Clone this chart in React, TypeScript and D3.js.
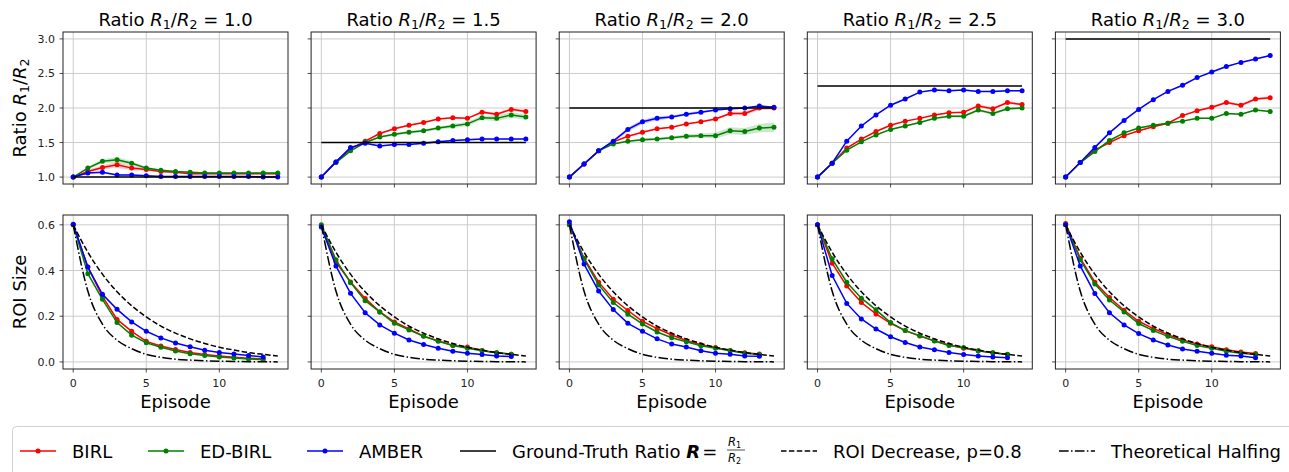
import React from 'react';
import * as d3 from 'd3';

// ---- data ----
const targetLabels = ['1.0', '1.5', '2.0', '2.5', '3.0'];
const groundTruth = [1.0, 1.5, 2.0, 2.32, 3.0];

const ratioEpisodes = [0, 1, 2, 3, 4, 5, 6, 7, 8, 9, 10, 11, 12, 13, 14];
const roiEpisodes = [0, 1, 2, 3, 4, 5, 6, 7, 8, 9, 10, 11, 12, 13];
const theoryEpisodes = [0, 1, 2, 3, 4, 5, 6, 7, 8, 9, 10, 11, 12, 13, 14];

const ratioTicks = [1.0, 1.5, 2.0, 2.5, 3.0];
const roiTicks = [0.0, 0.2, 0.4, 0.6];
const episodeTicks = [0, 5, 10];

const ratioBIRL = [
  [1.0, 1.08, 1.14, 1.18, 1.13, 1.11, 1.08, 1.07, 1.05, 1.05, 1.05, 1.05, 1.05, 1.05, 1.05],
  [1.0, 1.22, 1.41, 1.52, 1.63, 1.70, 1.75, 1.79, 1.84, 1.86, 1.85, 1.94, 1.91, 1.98, 1.95],
  [1.0, 1.19, 1.38, 1.51, 1.59, 1.65, 1.70, 1.72, 1.77, 1.80, 1.84, 1.92, 1.92, 2.00, 2.00],
  [1.0, 1.20, 1.42, 1.55, 1.66, 1.75, 1.81, 1.85, 1.90, 1.93, 1.94, 2.03, 1.99, 2.08, 2.05],
  [1.0, 1.21, 1.39, 1.50, 1.60, 1.67, 1.73, 1.78, 1.89, 1.96, 2.01, 2.08, 2.04, 2.13, 2.15],
];
const ratioEDBIRL = [
  [1.0, 1.13, 1.23, 1.25, 1.20, 1.13, 1.10, 1.08, 1.07, 1.06, 1.06, 1.06, 1.06, 1.06, 1.06],
  [1.0, 1.21, 1.38, 1.50, 1.58, 1.62, 1.65, 1.67, 1.71, 1.74, 1.77, 1.86, 1.85, 1.90, 1.87],
  [1.0, 1.19, 1.38, 1.48, 1.52, 1.54, 1.55, 1.57, 1.59, 1.60, 1.60, 1.67, 1.66, 1.71, 1.72],
  [1.0, 1.20, 1.39, 1.51, 1.61, 1.69, 1.74, 1.79, 1.85, 1.88, 1.88, 1.97, 1.92, 1.99, 2.00],
  [1.0, 1.21, 1.37, 1.53, 1.64, 1.71, 1.75, 1.78, 1.81, 1.85, 1.85, 1.92, 1.91, 1.97, 1.95],
];
const ratioAMBER = [
  [1.0, 1.06, 1.07, 1.03, 1.03, 1.02, 1.01, 1.01, 1.01, 1.01, 1.01, 1.01, 1.01, 1.0, 1.0],
  [1.0, 1.22, 1.43, 1.49, 1.45, 1.47, 1.47, 1.49, 1.51, 1.53, 1.54, 1.55, 1.55, 1.55, 1.55],
  [1.0, 1.19, 1.38, 1.52, 1.69, 1.80, 1.85, 1.87, 1.91, 1.94, 1.97, 1.99, 2.00, 2.03, 2.01],
  [1.0, 1.20, 1.52, 1.74, 1.90, 2.04, 2.13, 2.23, 2.26, 2.25, 2.26, 2.24, 2.24, 2.25, 2.25],
  [1.0, 1.21, 1.43, 1.64, 1.82, 1.98, 2.12, 2.24, 2.33, 2.44, 2.52, 2.60, 2.66, 2.71, 2.76],
];

// half-width of the shaded bands
const spreadBIRL = [
  [0, 0.02, 0.03, 0.04, 0.03, 0.02, 0.01, 0.01, 0.01, 0.01, 0.01, 0.01, 0.01, 0.01, 0.01],
  [0, 0.01, 0.01, 0.01, 0.01, 0.01, 0.01, 0.01, 0.01, 0.01, 0.01, 0.02, 0.02, 0.02, 0.02],
  [0, 0.01, 0.01, 0.01, 0.01, 0.01, 0.01, 0.01, 0.01, 0.01, 0.01, 0.02, 0.03, 0.03, 0.03],
  [0, 0.01, 0.01, 0.01, 0.01, 0.01, 0.01, 0.01, 0.01, 0.01, 0.01, 0.02, 0.02, 0.02, 0.02],
  [0, 0.01, 0.01, 0.01, 0.01, 0.01, 0.01, 0.01, 0.01, 0.01, 0.02, 0.02, 0.02, 0.02, 0.02],
];
const spreadEDBIRL = [
  [0, 0.02, 0.03, 0.04, 0.03, 0.02, 0.01, 0.01, 0.01, 0.01, 0.01, 0.01, 0.01, 0.01, 0.01],
  [0, 0.01, 0.01, 0.01, 0.01, 0.02, 0.02, 0.02, 0.02, 0.03, 0.03, 0.03, 0.04, 0.04, 0.04],
  [0, 0.01, 0.01, 0.01, 0.01, 0.02, 0.02, 0.02, 0.03, 0.03, 0.04, 0.05, 0.05, 0.06, 0.07],
  [0, 0.01, 0.01, 0.01, 0.01, 0.01, 0.01, 0.01, 0.02, 0.02, 0.02, 0.02, 0.02, 0.02, 0.02],
  [0, 0.01, 0.01, 0.01, 0.01, 0.01, 0.01, 0.01, 0.01, 0.01, 0.01, 0.01, 0.01, 0.01, 0.01],
];
const spreadAMBER = [
  [0, 0.01, 0.01, 0.01, 0.01, 0.01, 0.01, 0.01, 0.01, 0.01, 0.01, 0.01, 0.01, 0.01, 0.01],
  [0, 0.01, 0.01, 0.01, 0.01, 0.01, 0.01, 0.01, 0.01, 0.01, 0.01, 0.01, 0.01, 0.01, 0.01],
  [0, 0.01, 0.01, 0.02, 0.03, 0.03, 0.03, 0.02, 0.02, 0.02, 0.01, 0.01, 0.01, 0.01, 0.01],
  [0, 0.01, 0.01, 0.01, 0.01, 0.01, 0.01, 0.01, 0.01, 0.01, 0.01, 0.01, 0.01, 0.01, 0.01],
  [0, 0.01, 0.01, 0.01, 0.01, 0.01, 0.01, 0.01, 0.01, 0.01, 0.01, 0.01, 0.01, 0.01, 0.01],
];

const roiBIRL = [
  [0.600, 0.415, 0.287, 0.186, 0.134, 0.090, 0.070, 0.054, 0.041, 0.032, 0.026, 0.020, 0.016, 0.013],
  [0.595, 0.437, 0.350, 0.278, 0.219, 0.175, 0.144, 0.113, 0.093, 0.072, 0.065, 0.050, 0.040, 0.034],
  [0.600, 0.454, 0.349, 0.274, 0.225, 0.178, 0.146, 0.118, 0.094, 0.075, 0.063, 0.050, 0.040, 0.035],
  [0.600, 0.432, 0.332, 0.260, 0.210, 0.169, 0.137, 0.113, 0.093, 0.074, 0.060, 0.049, 0.040, 0.032],
  [0.606, 0.454, 0.349, 0.282, 0.226, 0.178, 0.146, 0.119, 0.096, 0.078, 0.066, 0.053, 0.043, 0.037],
];
const roiEDBIRL = [
  [0.600, 0.386, 0.274, 0.172, 0.117, 0.084, 0.064, 0.048, 0.036, 0.028, 0.022, 0.017, 0.013, 0.010],
  [0.600, 0.447, 0.347, 0.268, 0.219, 0.169, 0.140, 0.112, 0.090, 0.072, 0.060, 0.049, 0.040, 0.034],
  [0.600, 0.450, 0.337, 0.260, 0.209, 0.166, 0.131, 0.106, 0.088, 0.071, 0.060, 0.049, 0.038, 0.032],
  [0.600, 0.451, 0.349, 0.279, 0.228, 0.172, 0.137, 0.115, 0.091, 0.072, 0.063, 0.049, 0.040, 0.034],
  [0.600, 0.447, 0.341, 0.271, 0.219, 0.168, 0.137, 0.112, 0.090, 0.072, 0.060, 0.047, 0.038, 0.032],
];
const roiAMBER = [
  [0.603, 0.415, 0.296, 0.230, 0.175, 0.134, 0.105, 0.083, 0.066, 0.051, 0.041, 0.035, 0.028, 0.022],
  [0.590, 0.420, 0.300, 0.215, 0.162, 0.126, 0.096, 0.076, 0.060, 0.047, 0.038, 0.032, 0.026, 0.024],
  [0.613, 0.428, 0.310, 0.229, 0.169, 0.134, 0.101, 0.078, 0.065, 0.049, 0.038, 0.034, 0.026, 0.025],
  [0.600, 0.378, 0.256, 0.188, 0.144, 0.110, 0.085, 0.065, 0.053, 0.041, 0.032, 0.026, 0.022, 0.018],
  [0.600, 0.420, 0.299, 0.215, 0.162, 0.124, 0.096, 0.074, 0.057, 0.047, 0.038, 0.029, 0.026, 0.018],
];

const roiDecrease = [0.6, 0.48, 0.384, 0.307, 0.246, 0.197, 0.157, 0.126, 0.101, 0.081, 0.064, 0.052, 0.041, 0.033, 0.026];
const halfing = [0.6, 0.31, 0.165, 0.095, 0.058, 0.033, 0.02, 0.012, 0.008, 0.005, 0.003, 0.002, 0.001, 0.001, 0.0];

const methods = [
  { name: 'BIRL', color: '#ff0000', ratio: ratioBIRL, spread: spreadBIRL, roi: roiBIRL },
  { name: 'ED-BIRL', color: '#008000', ratio: ratioEDBIRL, spread: spreadEDBIRL, roi: roiEDBIRL },
  { name: 'AMBER', color: '#0000ff', ratio: ratioAMBER, spread: spreadAMBER, roi: roiAMBER },
];

// ---- layout ----
const W = 1289;
const H = 472;
const FONT = 'DejaVu Sans, sans-serif';
const PANEL_LEFT = 63;
const PANEL_STEP = 248.1;
const PANEL_W = 225;
const TOP_Y0 = 32;
const TOP_Y1 = 184;
const BOT_Y0 = 215;
const BOT_Y1 = 369;
const GRID = '#cccccc';
const TICK_TXT = '#222';
const DASHED = '5.5,2.4';
const DASHDOT = '9.6,2.4,1.5,2.4';

function Frame({ left, top, bottom }: { left: number; top: number; bottom: number }) {
  return (
    <rect x={left} y={top} width={PANEL_W} height={bottom - top} fill="none" stroke="#222" strokeWidth={1} />
  );
}

function Panel({ i }: { i: number }) {
  const left = PANEL_LEFT + i * PANEL_STEP;
  const x = d3.scaleLinear().domain([-0.7, 14.7]).range([left, left + PANEL_W]);
  const yR = d3.scaleLinear().domain([0.9, 3.1]).range([TOP_Y1, TOP_Y0]);
  const yS = d3.scaleLinear().domain([-0.031, 0.643]).range([BOT_Y1, BOT_Y0]);
  const cx = left + PANEL_W / 2;

  const ratioLine = d3.line<number>().x((_, k) => x(ratioEpisodes[k])).y((d) => yR(d));
  const roiLine = d3.line<number>().x((_, k) => x(roiEpisodes[k])).y((d) => yS(d));
  const theoryLine = d3
    .line<number>()
    .x((_, k) => x(theoryEpisodes[k]))
    .y((d) => yS(d))
    .curve(d3.curveMonotoneX);

  return (
    <g>
      {/* title */}
      <text x={cx} y={26} textAnchor="middle" fontSize={18} fontFamily={FONT} fill="#000">
        Ratio <tspan fontStyle="italic">R</tspan>
        <tspan fontSize={12.6} dy={3}>1</tspan>
        <tspan dy={-3}>/</tspan>
        <tspan fontStyle="italic">R</tspan>
        <tspan fontSize={12.6} dy={3}>2</tspan>
        <tspan dy={-3}> = {targetLabels[i]}</tspan>
      </text>

      {/* ---- top: ratio ---- */}
      {episodeTicks.map((t) => (
        <g key={'tx' + t}>
          <line x1={x(t)} x2={x(t)} y1={TOP_Y0} y2={TOP_Y1} stroke={GRID} strokeWidth={1} />
          <line x1={x(t)} x2={x(t)} y1={TOP_Y1} y2={TOP_Y1 + 3.5} stroke="#222" strokeWidth={0.8} />
        </g>
      ))}
      {ratioTicks.map((t) => (
        <g key={'ty' + t}>
          <line x1={left} x2={left + PANEL_W} y1={yR(t)} y2={yR(t)} stroke={GRID} strokeWidth={1} />
          <line x1={left - 3.5} x2={left} y1={yR(t)} y2={yR(t)} stroke="#222" strokeWidth={0.8} />
          {i === 0 && (
            <text x={left - 8} y={yR(t) + 4} textAnchor="end" fontSize={11} fontFamily={FONT} fill={TICK_TXT}>
              {t.toFixed(1)}
            </text>
          )}
        </g>
      ))}
      {methods.map((m) => {
        const vals = m.ratio[i];
        const sp = m.spread[i];
        const band = d3
          .area<number>()
          .x((_, k) => x(ratioEpisodes[k]))
          .y0((d, k) => yR(d - sp[k]))
          .y1((d, k) => yR(d + sp[k]));
        return (
          <g key={'r' + m.name}>
            <path d={band(vals) || ''} fill={m.color} fillOpacity={0.2} stroke="none" />
            <path d={ratioLine(vals) || ''} fill="none" stroke={m.color} strokeWidth={1.5} />
            {vals.map((v, k) => (
              <circle key={k} cx={x(ratioEpisodes[k])} cy={yR(v)} r={2.5} fill={m.color} />
            ))}
          </g>
        );
      })}
      <line
        x1={x(ratioEpisodes[0])}
        x2={x(ratioEpisodes[ratioEpisodes.length - 1])}
        y1={yR(groundTruth[i])}
        y2={yR(groundTruth[i])}
        stroke="#000"
        strokeWidth={1.5}
      />
      <Frame left={left} top={TOP_Y0} bottom={TOP_Y1} />

      {/* ---- bottom: ROI size ---- */}
      {episodeTicks.map((t) => (
        <g key={'bx' + t}>
          <line x1={x(t)} x2={x(t)} y1={BOT_Y0} y2={BOT_Y1} stroke={GRID} strokeWidth={1} />
          <line x1={x(t)} x2={x(t)} y1={BOT_Y1} y2={BOT_Y1 + 3.5} stroke="#222" strokeWidth={0.8} />
          <text x={x(t)} y={BOT_Y1 + 18} textAnchor="middle" fontSize={11} fontFamily={FONT} fill={TICK_TXT}>
            {t}
          </text>
        </g>
      ))}
      {roiTicks.map((t) => (
        <g key={'by' + t}>
          <line x1={left} x2={left + PANEL_W} y1={yS(t)} y2={yS(t)} stroke={GRID} strokeWidth={1} />
          <line x1={left - 3.5} x2={left} y1={yS(t)} y2={yS(t)} stroke="#222" strokeWidth={0.8} />
          {i === 0 && (
            <text x={left - 8} y={yS(t) + 4} textAnchor="end" fontSize={11} fontFamily={FONT} fill={TICK_TXT}>
              {t.toFixed(1)}
            </text>
          )}
        </g>
      ))}
      {methods.map((m) => {
        const vals = m.roi[i];
        return (
          <g key={'s' + m.name}>
            <path d={roiLine(vals) || ''} fill="none" stroke={m.color} strokeWidth={1.5} />
            {vals.map((v, k) => (
              <circle key={k} cx={x(roiEpisodes[k])} cy={yS(v)} r={2.5} fill={m.color} />
            ))}
          </g>
        );
      })}
      <path d={theoryLine(roiDecrease) || ''} fill="none" stroke="#000" strokeWidth={1.5} strokeDasharray={DASHED} />
      <path d={theoryLine(halfing) || ''} fill="none" stroke="#000" strokeWidth={1.5} strokeDasharray={DASHDOT} />
      <Frame left={left} top={BOT_Y0} bottom={BOT_Y1} />

      <text x={cx} y={408} textAnchor="middle" fontSize={18} fontFamily={FONT} fill="#000">
        Episode
      </text>
    </g>
  );
}

function Legend() {
  const cy = 451;
  const hs = [20, 148, 307, 460, 781, 1059];
  const hl = 36;
  const tx = (k: number) => hs[k] + hl + 16;
  const txt = { fontSize: 18, fontFamily: FONT, fill: '#000' };
  return (
    <g>
      <rect x={12.5} y={426.5} width={1290} height={60} rx={4} fill="#fff" stroke="#d0d0d0" strokeWidth={1} />
      {methods.map((m, k) => (
        <g key={m.name}>
          <line x1={hs[k]} x2={hs[k] + hl} y1={cy} y2={cy} stroke={m.color} strokeWidth={1.5} />
          <circle cx={hs[k] + hl / 2} cy={cy} r={2.5} fill={m.color} />
          <text x={tx(k)} y={cy + 6.5} {...txt}>
            {m.name}
          </text>
        </g>
      ))}
      <line x1={hs[3]} x2={hs[3] + hl} y1={cy} y2={cy} stroke="#000" strokeWidth={1.5} />
      <text x={tx(3)} y={cy + 6.5} {...txt}>
        Ground-Truth Ratio <tspan fontWeight="bold" fontStyle="italic">R</tspan>
        <tspan dx={2}>=</tspan>
      </text>
      <text x={728} y={446} fontSize={11.5} fontStyle="italic" fontFamily={FONT}>
        R<tspan fontSize={8} dy={2} fontStyle="normal">1</tspan>
      </text>
      <line x1={727} x2={745} y1={450} y2={450} stroke="#000" strokeWidth={0.7} />
      <text x={728} y={462} fontSize={11.5} fontStyle="italic" fontFamily={FONT}>
        R<tspan fontSize={8} dy={2} fontStyle="normal">2</tspan>
      </text>
      <line x1={hs[4]} x2={hs[4] + hl} y1={cy} y2={cy} stroke="#000" strokeWidth={1.5} strokeDasharray={DASHED} />
      <text x={tx(4)} y={cy + 6.5} {...txt}>
        ROI Decrease, p=0.8
      </text>
      <line x1={hs[5]} x2={hs[5] + hl} y1={cy} y2={cy} stroke="#000" strokeWidth={1.5} strokeDasharray={DASHDOT} />
      <text x={tx(5)} y={cy + 6.5} {...txt}>
        Theoretical Halfing
      </text>
    </g>
  );
}

export default function App() {
  return (
    <div style={{ position: 'absolute', left: 0, top: 0 }}>
      <svg width={W} height={H} style={{ display: 'block', background: '#fff' }}>
        <rect x={0} y={0} width={W} height={H} fill="#fff" />
        {targetLabels.map((_, i) => (
          <Panel key={i} i={i} />
        ))}
        <text
          transform={`translate(26, ${(TOP_Y0 + TOP_Y1) / 2}) rotate(-90)`}
          textAnchor="middle"
          fontSize={18}
          fontFamily={FONT}
        >
          Ratio <tspan fontStyle="italic">R</tspan>
          <tspan fontSize={12.6} dy={3}>1</tspan>
          <tspan dy={-3}>/</tspan>
          <tspan fontStyle="italic">R</tspan>
          <tspan fontSize={12.6} dy={3}>2</tspan>
        </text>
        <text
          transform={`translate(26, ${(BOT_Y0 + BOT_Y1) / 2}) rotate(-90)`}
          textAnchor="middle"
          fontSize={18}
          fontFamily={FONT}
        >
          ROI Size
        </text>
        <Legend />
      </svg>
    </div>
  );
}
